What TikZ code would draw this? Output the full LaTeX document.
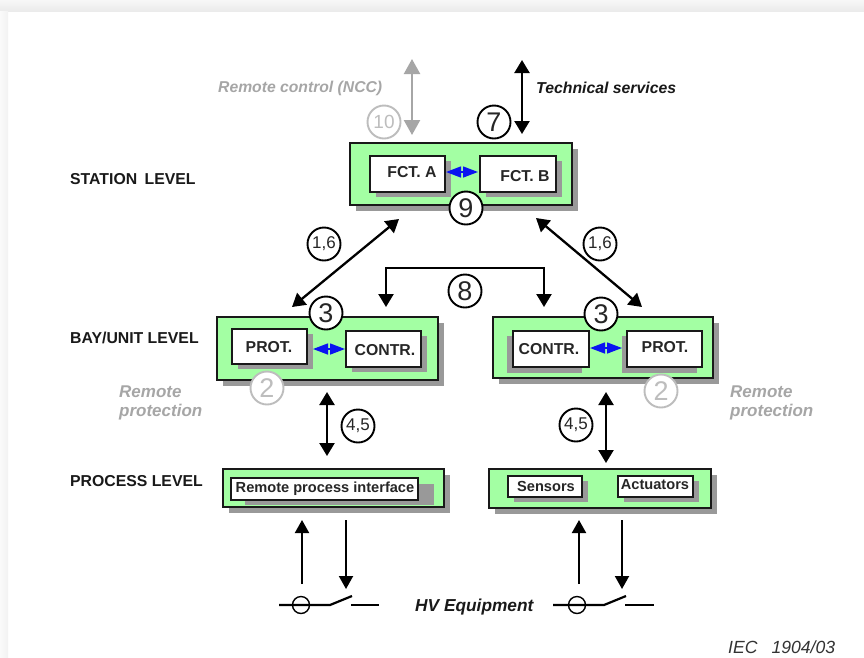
\documentclass[tikz,border=0pt]{standalone}
\usepackage{fontspec}
\setmainfont{Liberation Sans}
\usetikzlibrary{arrows.meta}
\definecolor{boxgreen}{HTML}{A3FFA3}
\definecolor{shadowgray}{HTML}{999999}
\definecolor{softgray}{HTML}{A6A6A6}
\definecolor{ringgray}{HTML}{BDBDBD}
\definecolor{linkblue}{HTML}{0A14F0}
\tikzset{
  x=1pt,y=-1pt,
  panel/.style={draw=black!90,line width=1.6pt,fill=boxgreen,inner sep=0pt},
  card/.style={draw=black!90,line width=1.5pt,fill=white,inner sep=0pt},
  shadowfill/.style={fill=shadowgray,draw=none},
  boxtext/.style={font=\bfseries\fontsize{15.8}{17}\selectfont,inner sep=0pt,text=black!85},
  smalltext/.style={font=\bfseries\fontsize{14.6}{16}\selectfont,inner sep=0pt,text=black!85},
  leveltext/.style={font=\bfseries\fontsize{15.8}{17}\selectfont,inner sep=0pt,anchor=west,text=black!90},
  softtext/.style={font=\bfseries\itshape\fontsize{15.7}{17}\selectfont,inner sep=0pt,text=softgray,anchor=west,align=left},
  softbig/.style={font=\bfseries\itshape\fontsize{17}{19}\selectfont,inner sep=0pt,text=softgray,anchor=west,align=left},
  darktext/.style={font=\bfseries\itshape\fontsize{15.8}{17}\selectfont,inner sep=0pt,text=black!90,anchor=west},
  bigtext/.style={font=\bfseries\itshape\fontsize{17.3}{19}\selectfont,inner sep=0pt,text=black!90,anchor=west},
  ring/.style={circle,draw=black,line width=1.9pt,fill=white,minimum size=33pt,inner sep=0pt,font=\fontsize{27}{29}\selectfont,text=black!85},
  smallring/.style={circle,draw=black,line width=1.9pt,fill=white,minimum size=33pt,inner sep=0pt,font=\fontsize{17}{19}\selectfont,text=black!85},
  softring/.style={circle,draw=ringgray,line width=1.9pt,fill=white,minimum size=33pt,inner sep=0pt,text=ringgray},
  both/.style={line width=2.3pt,{Triangle[length=13pt,width=15pt]}-{Triangle[length=13pt,width=15pt]}},
  softboth/.style={both,draw=softgray,{Triangle[length=15pt,width=16pt]}-{Triangle[length=15pt,width=16pt]}},
  bluelink/.style={draw=linkblue,line width=1.4pt,{Triangle[length=15pt,width=11pt]}-{Triangle[length=15pt,width=11pt]}},
  single/.style={line width=2pt,-{Triangle[length=13pt,width=14pt]}},
  hvline/.style={line width=2.2pt},
}
% name, x1, y1, x2, y2, style, shadow dx, shadow dy
\newcommand{\blockbox}[8]{%
  \fill[shadowfill] (#2+#7,#3+#8) rectangle (#4+#7,#5+#8);
  \pgfmathsetmacro{\bw}{#4-#2}\pgfmathsetmacro{\bh}{#5-#3}%
  \node[#6,minimum width=\bw pt,minimum height=\bh pt] (#1) at ({(#2+#4)/2},{(#3+#5)/2}) {};
}
\begin{document}
\begin{tikzpicture}
\useasboundingbox (0,0) rectangle (864,657);
\fill[white] (0,0) rectangle (864,657);
\shade[top color=black!3,bottom color=black!8] (0,0) rectangle (864,11);
\shade[left color=black!2,right color=black!5] (0,11) rectangle (8,657);

% level labels
\node[leveltext] (lvStation) at (70,179) {STATION\hspace{7.5pt}LEVEL};
\node[leveltext] (lvBay) at (70,338) {BAY/UNIT LEVEL};
\node[leveltext] (lvProcess) at (70,481) {PROCESS LEVEL};

% station
\blockbox{station}{350}{143}{572}{205}{panel}{6}{6}
\blockbox{fctA}{370}{156}{445}{192}{card}{6}{5}
\blockbox{fctB}{480}{156}{556}{192}{card}{6}{5}
\node[boxtext] (tA) at (412,172) {FCT. A};
\node[boxtext] (tB) at (525,176) {FCT. B};
\coordinate (bA) at (446,172); \coordinate (bB) at (478,172);
\draw[bluelink] (bA) -- (bB);

% bay left
\blockbox{bayL}{217}{317}{438}{380}{panel}{6}{6}
\blockbox{protL}{232}{329}{307}{364}{card}{6}{5}
\blockbox{contrL}{346}{331}{421}{367}{card}{6}{5}
\node[boxtext] (tPL) at (269,347) {PROT.};
\node[boxtext] (tCL) at (385,350) {CONTR.};
\coordinate (bL1) at (313,349); \coordinate (bL2) at (345,349);
\draw[bluelink] (bL1) -- (bL2);

% bay right
\blockbox{bayR}{493}{317}{713}{378}{panel}{6}{6}
\fill[shadowfill] (507,336) rectangle (582,373);
\fill[shadowfill] (622,336) rectangle (697,373);
\blockbox{contrR}{513}{331}{589}{367}{card}{0}{0}
\blockbox{protR}{627}{331}{702}{367}{card}{0}{0}
\node[boxtext] (tCR) at (549,349) {CONTR.};
\node[boxtext] (tPR) at (665,347) {PROT.};
\coordinate (bR1) at (590,348); \coordinate (bR2) at (622,348);
\draw[bluelink] (bR1) -- (bR2);

% process left
\blockbox{procL}{223}{469}{444}{507}{panel}{6}{6}
\fill[shadowfill] (245,484) rectangle (434,505);
\blockbox{rpi}{231}{478}{418}{500}{card}{0}{0}
\node[smalltext] (tRpi) at (325,489) {Remote process interface};

% process right
\blockbox{procR}{489}{469}{711}{508}{panel}{6}{6}
\blockbox{sensors}{508}{476}{582}{497}{card}{6}{5}
\blockbox{actuators}{618}{476}{693}{497}{card}{6}{5}
\node[smalltext] (tS) at (546,486) {Sensors};
\node[smalltext] (tAc) at (655,485) {Actuators};

% top arrows
\coordinate (gT) at (412,59); \coordinate (gB) at (412,135);
\draw[softboth] (gT) -- (gB);
\coordinate (kT) at (522,60); \coordinate (kB) at (522,134);
\draw[both] (kT) -- (kB);

% rings
\node[softring,font=\fontsize{19}{21}\selectfont] (r10) at (384,122) {10};
\node[ring] (r7) at (494,122) {7};
\node[ring] (r9) at (466,208) {9};
\node[ring] (r3L) at (326,313) {3};
\node[ring] (r3R) at (601,314) {3};
\node[ring] (r8) at (465,291) {8};
\node[softring,font=\fontsize{27}{29}\selectfont] (r2L) at (267,388) {2};
\node[softring,font=\fontsize{27}{29}\selectfont] (r2R) at (661,391) {2};
\node[smallring] (r16L) at (324,244) {1,6};
\node[smallring] (r16R) at (600,244) {1,6};
\node[smallring] (r45L) at (358,426) {4,5};
\node[smallring] (r45R) at (576,425) {4,5};

% links between levels
\coordinate (dL1) at (399,219); \coordinate (dL2) at (292,307);
\draw[both] (dL1) -- (dL2);
\coordinate (dR1) at (536,218); \coordinate (dR2) at (642,307);
\draw[both] (dR1) -- (dR2);
\coordinate (brL) at (386,307); \coordinate (brR) at (544,307);
\draw[both] (brL) -- (386,268) -- (544,268) -- (brR);
\coordinate (vL1) at (327,392); \coordinate (vL2) at (327,456);
\draw[both] (vL1) -- (vL2);
\coordinate (vR1) at (606,392); \coordinate (vR2) at (606,463);
\draw[both] (vR1) -- (vR2);

% HV equipment left
\coordinate (uL1) at (302,584); \coordinate (uL2) at (302,520);
\draw[single] (uL1) -- (uL2);
\coordinate (nL1) at (346,520); \coordinate (nL2) at (346,589);
\draw[single] (nL1) -- (nL2);
\draw[hvline] (279,605) -- (330,605) -- (352,596);
\draw[hvline] (351,605) -- (379,605);
\node[circle,draw=black,line width=1.4pt,minimum size=17pt,inner sep=0pt] (cL) at (301,605) {};
% HV equipment right
\coordinate (uR1) at (579,584); \coordinate (uR2) at (579,520);
\draw[single] (uR1) -- (uR2);
\coordinate (nR1) at (622,520); \coordinate (nR2) at (622,589);
\draw[single] (nR1) -- (nR2);
\draw[hvline] (553,605) -- (604,605) -- (626,596);
\draw[hvline] (625,605) -- (654,605);
\node[circle,draw=black,line width=1.4pt,minimum size=17pt,inner sep=0pt] (cR) at (577,605) {};

% labels
\node[softtext] (tNcc) at (218,88) {Remote control (NCC)};
\node[darktext] (tTech) at (536,88) {Technical services};
\node[softbig] (tRpL) at (119,392) {Remote};
\node[softbig] (tRpL2) at (119,412) {protection};
\node[softbig] (tRpR) at (730,392) {Remote};
\node[softbig] (tRpR2) at (730,412) {protection};
\node[bigtext] (tHv) at (415,607) {HV Equipment};
\node[font=\itshape\fontsize{17.6}{19}\selectfont,inner sep=0pt,anchor=west,text=black!80] (tIec) at (728,647) {IEC\hspace{14pt}1904/03};
\end{tikzpicture}
\end{document}
